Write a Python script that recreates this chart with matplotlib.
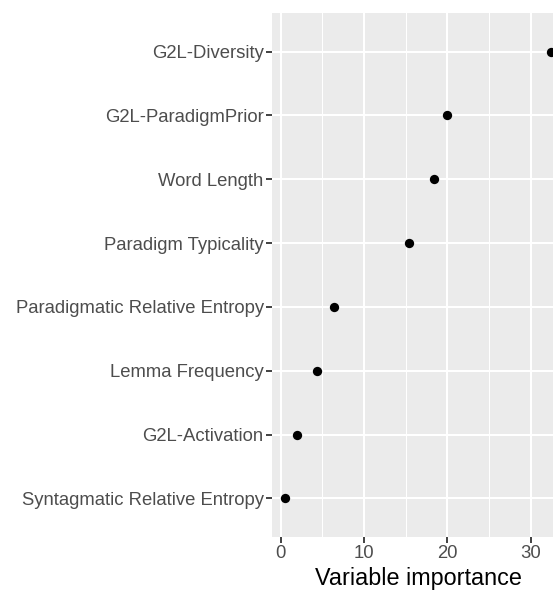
import numpy as np
import matplotlib.pyplot as plt
from matplotlib.ticker import MultipleLocator

# variables, top to bottom
variables = ['G2L-Diversity', 'G2L-ParadigmPrior', 'Word Length',
             'Paradigm Typicality', 'Paradigmatic Relative Entropy',
             'Lemma Frequency', 'G2L-Activation',
             'Syntagmatic Relative Entropy']
importance = [32.45, 20.0, 18.4, 15.4, 6.4, 4.3, 1.9, 0.5]

plt.rcParams['font.family'] = ['Liberation Sans', 'DejaVu Sans']

fig = plt.figure(figsize=(5.53, 5.93), dpi=100)
W, H = 553, 593
ax = fig.add_axes([272 / W, (H - 536.7) / H, 1 - 272 / W, (536.7 - 13.3) / H])

ypos = np.arange(len(variables), 0, -1)
ax.scatter(importance, ypos, s=45, color='black', zorder=3, clip_on=False,
           linewidths=0)

ax.set_facecolor('#EBEBEB')
ax.set_xlim(-1.04, 32.67)
ax.set_ylim(0.4, len(variables) + 0.6)
ax.xaxis.set_major_locator(MultipleLocator(10))
ax.xaxis.set_minor_locator(MultipleLocator(5))
ax.set_yticks(ypos)
ax.set_yticklabels(variables)

ax.grid(which='major', color='white', linewidth=1.5)
ax.grid(which='minor', axis='x', color='white', linewidth=0.75)
ax.set_axisbelow(True)
for s in ax.spines.values():
    s.set_visible(False)

ax.tick_params(which='major', length=4, width=1.3, color='#333333',
               labelcolor='#4D4D4D', labelsize=13.3, pad=2)
ax.tick_params(which='minor', length=0)
ax.set_xlabel('Variable importance', fontsize=16.8, color='black', labelpad=2)
# the panel continues past the right edge, so the title sits a bit right
ax.xaxis.set_label_coords(0.52, -0.058)

fig.savefig('out.png', dpi=100)
